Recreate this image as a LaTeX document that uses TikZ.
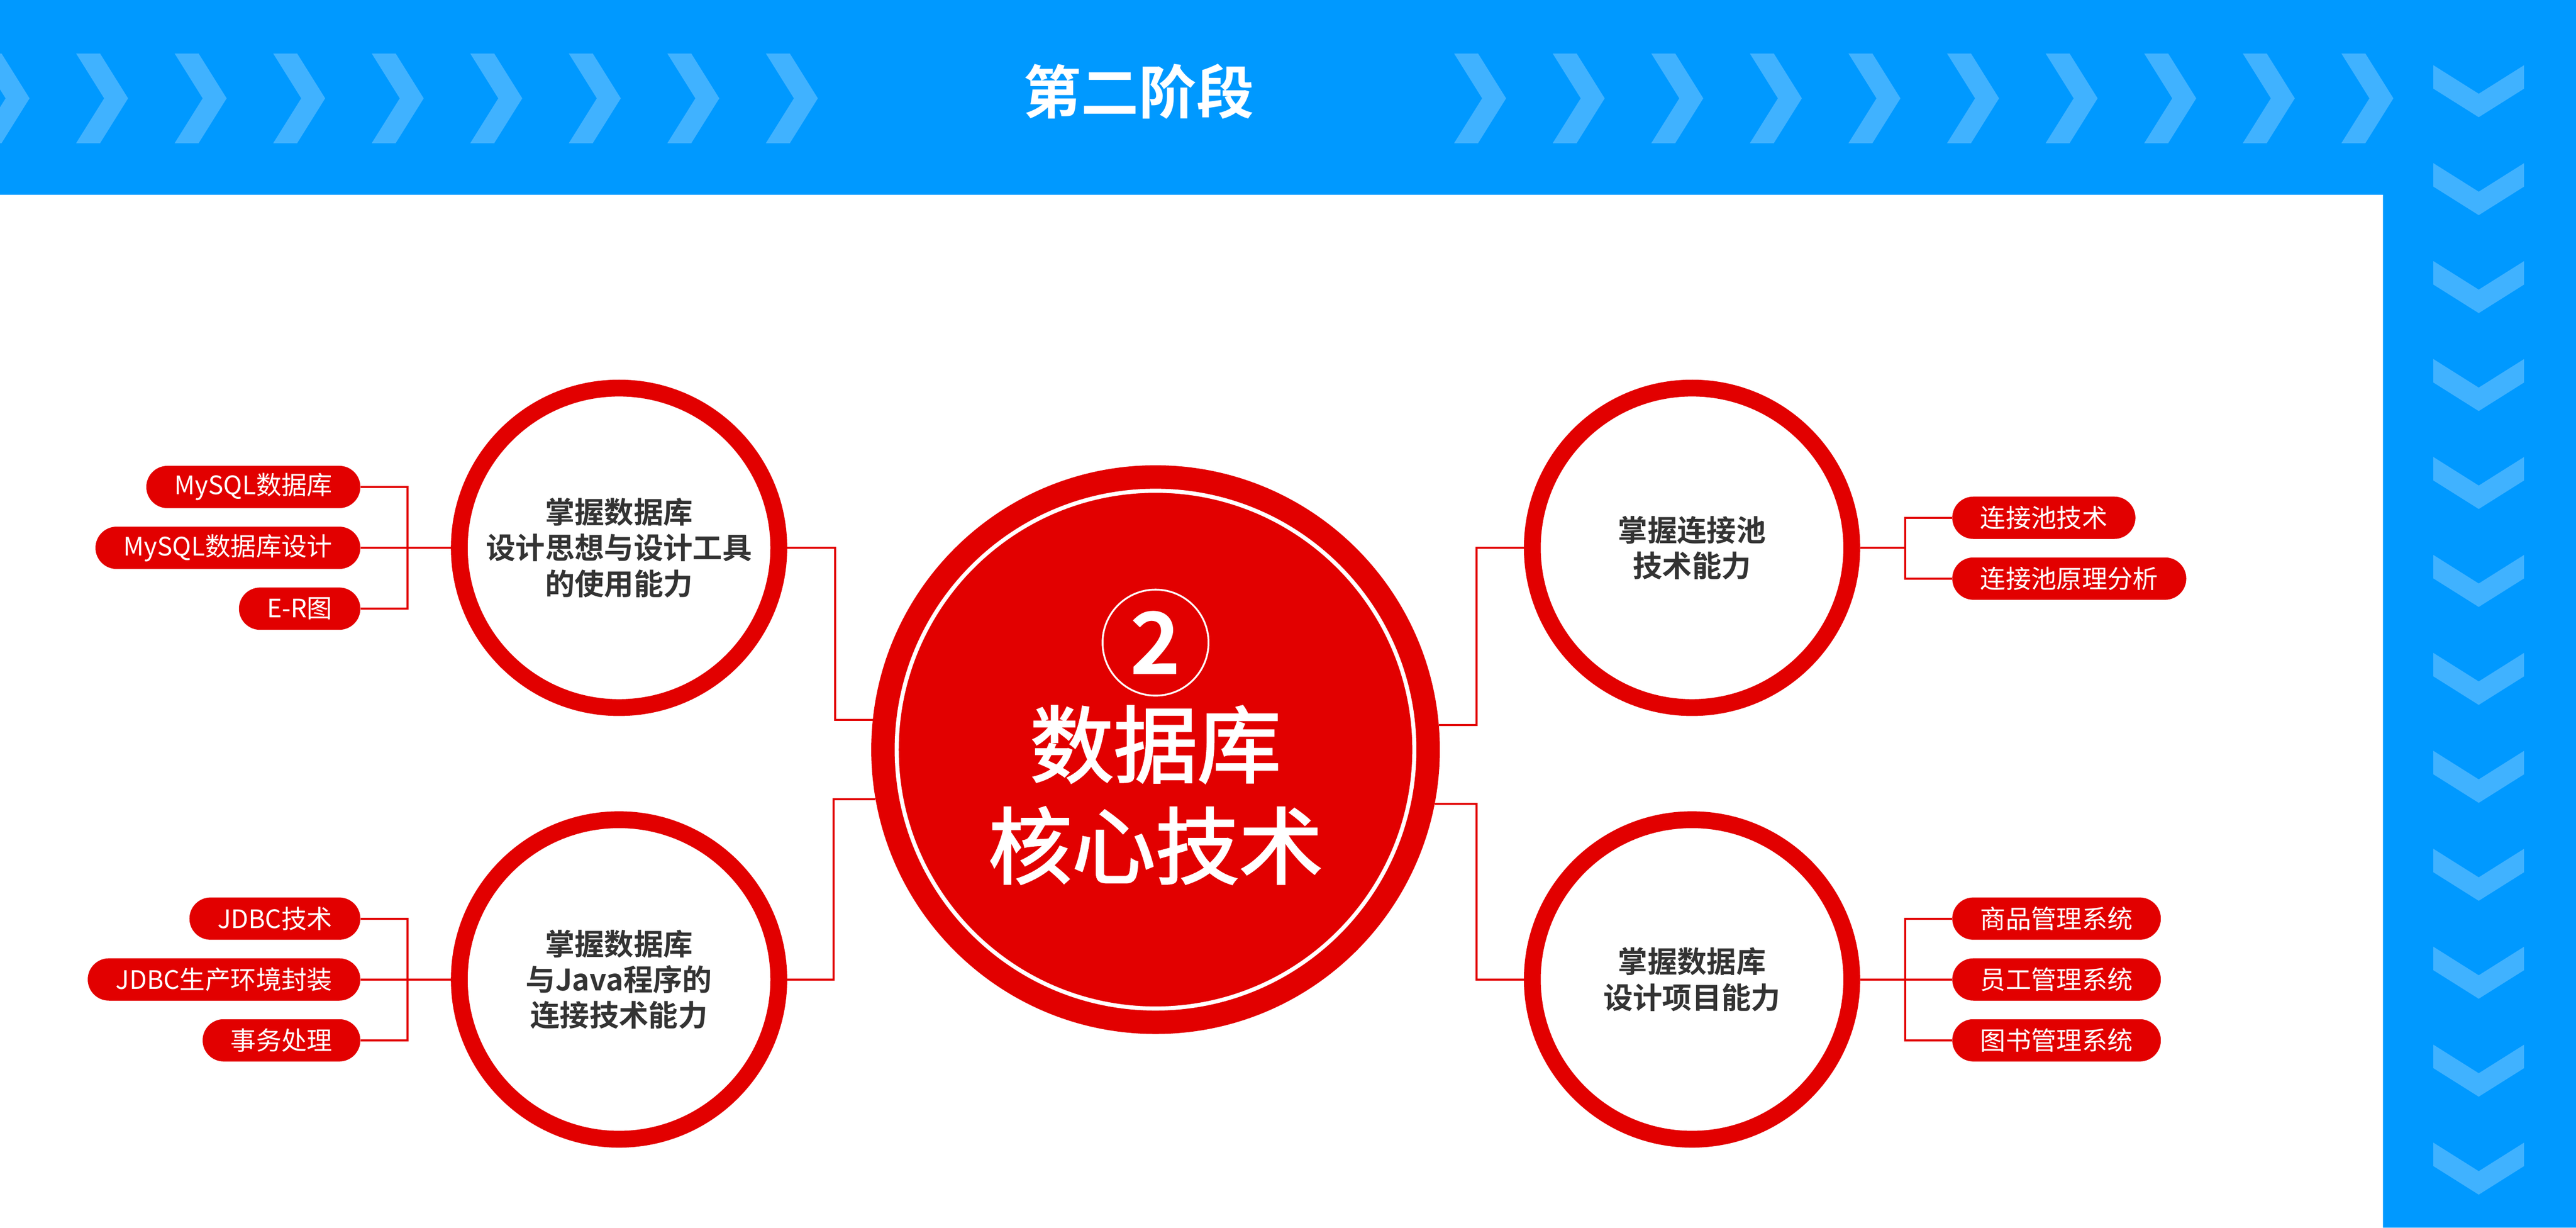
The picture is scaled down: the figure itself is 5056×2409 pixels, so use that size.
\documentclass[tikz,border=0pt]{standalone}
\usepackage{fontspec}
\setmainfont{Noto Sans CJK SC}
\newfontfamily\boldcjk{Noto Sans CJK SC Bold}
\newfontfamily\heavycjk{Noto Sans CJK SC}[FakeBold=2]
\usetikzlibrary{positioning}
\definecolor{stagered}{RGB}{226,0,0}
\definecolor{bannerblue}{RGB}{0,153,255}
\definecolor{chevblue}{RGB}{64,178,255}
\definecolor{textgray}{RGB}{51,51,51}

\begin{document}
\begin{tikzpicture}[
    x=0.1mm, y=-0.1mm,
    skill/.style={circle, draw=stagered, line width=3.3mm, fill=white, minimum size=62.7mm, inner sep=0pt, align=center, text=textgray, font=\boldcjk\fontsize{16.5pt}{19.9pt}\selectfont},
    pill/.style={rectangle, rounded corners=4.15mm, fill=stagered, text=white, minimum height=8.3mm, inner xsep=5.5mm, inner ysep=0pt, font=\fontsize{14.2pt}{16pt}\selectfont},
    link/.style={draw=stagered, line width=0.4mm},
    chev/.style={fill=chevblue}
]
\useasboundingbox (0,0) rectangle (5056,2409);

% Frame: top banner and right band
\fill[bannerblue] (0,0) -| (5056,2409) -| (4677,382) -| (0,0) -- cycle;
\foreach \i in {0,...,8}
    \fill[chev] ({-44+193.4*\i},105) -- ++(47,0) -- ++(55,88) -- ++(-55,88) -- ++(-47,0) -- ++(55,-88) -- cycle;
\foreach \i in {0,...,9}
    \fill[chev] ({2854+193.5*\i},105) -- ++(47,0) -- ++(55,88) -- ++(-55,88) -- ++(-47,0) -- ++(55,-88) -- cycle;
\foreach \i in {0,...,11}
    \fill[chev] (4776,{128+192.2*\i}) -- ++(89,56) -- ++(89,-56) -- ++(0,46) -- ++(-89,56) -- ++(-89,-56) -- cycle;

\node[text=white, font=\boldcjk\fontsize{32.2pt}{32pt}\selectfont] (title) at (2235,180) {第二阶段};

% Centre
\node[circle, fill=stagered, minimum size=111.6mm, inner sep=0pt, outer sep=0pt] (core) at (2268,1471) {};
\node[circle, draw=white, line width=0.8mm, minimum size=101.6mm, inner sep=0pt] (core-ring) at (core) {};
\node[circle, draw=white, line width=0.35mm, minimum size=20.8mm, inner sep=0pt, text=white, font=\boldcjk\fontsize{48pt}{48pt}\selectfont] (num) at (2268,1261) {2};
\node[text=white, align=center, font=\heavycjk\fontsize{46.7pt}{56.6pt}\selectfont] (core-text) at (2268,1560) {数据库\\核心技术};

% Skill circles
\node[skill] (db-design) at (1215,1075) {掌握数据库\\设计思想与设计工具\\的使用能力};
\node[skill] (pool) at (3321,1075) {掌握连接池\\技术能力};
\node[skill] (jdbc) at (1215,1922) {掌握数据库\\与Java程序的\\连接技术能力};
\node[skill] (project) at (3321,1922) {掌握数据库\\设计项目能力};

% Left pills
\node[pill, anchor=east] (mysql-design) at (708,1075) {MySQL数据库设计};
\node[pill, above=3.5mm of mysql-design.north east, anchor=south east] (mysql) {MySQL数据库};
\node[pill, below=3.5mm of mysql-design.south east, anchor=north east] (er) {E-R图};

\node[pill, anchor=east] (jdbc-env) at (708,1922) {JDBC生产环境封装};
\node[pill, above=3.5mm of jdbc-env.north east, anchor=south east] (jdbc-tech) {JDBC技术};
\node[pill, below=3.5mm of jdbc-env.south east, anchor=north east] (tx) {事务处理};

% Right pills
\node[pill, anchor=west] (pool-tech) at (3831,1016) {连接池技术};
\node[pill, below=3.5mm of pool-tech.south west, anchor=north west] (pool-theory) {连接池原理分析};

\node[pill, anchor=west] (staff-sys) at (3831,1922) {员工管理系统};
\node[pill, above=3.5mm of staff-sys.north west, anchor=south west] (shop-sys) {商品管理系统};
\node[pill, below=3.5mm of staff-sys.south west, anchor=north west] (book-sys) {图书管理系统};

% Centre to skills
\draw[link] (core.174.9) -- ++(-74,0) |- (db-design.east);
\draw[link] (core.190.8) -- ++(-82,0) |- (jdbc.east);
\draw[link] (core.5.1) -- ++(74,0) |- (pool.west);
\draw[link] (core.349.2) -- ++(82,0) |- (project.west);

% Skills to pills
\draw[link] (db-design.west) -- ++(-85,0) |- (mysql.east);
\draw[link] (db-design.west) -- (mysql-design.east);
\draw[link] (db-design.west) -- ++(-85,0) |- (er.east);
\draw[link] (jdbc.west) -- ++(-85,0) |- (jdbc-tech.east);
\draw[link] (jdbc.west) -- (jdbc-env.east);
\draw[link] (jdbc.west) -- ++(-85,0) |- (tx.east);
\draw[link] (pool.east) -- ++(88,0) |- (pool-tech.west);
\draw[link] (pool.east) -- ++(88,0) |- (pool-theory.west);
\draw[link] (project.east) -- ++(88,0) |- (shop-sys.west);
\draw[link] (project.east) -- (staff-sys.west);
\draw[link] (project.east) -- ++(88,0) |- (book-sys.west);

\end{tikzpicture}
\end{document}
